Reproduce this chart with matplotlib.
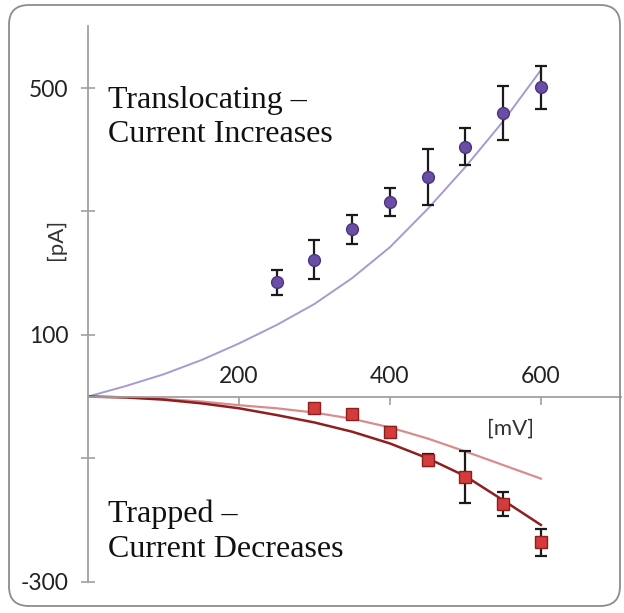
import matplotlib
matplotlib.use("Agg")
import matplotlib.pyplot as plt
from matplotlib.patches import FancyBboxPatch

# measured points (mV, pA)
v_trans = [250, 300, 350, 400, 450, 500, 550, 600]
i_trans = [185, 222, 271, 315, 356, 405, 460, 501]
err_trans = [20, 31, 24, 23, 45, 30, 44, 35]

v_trap = [300, 350, 400, 450, 500, 550, 600]
i_trap = [-19, -28, -57, -103, -131, -174, -236]
err_trap = [5, 5, 7, 10, 42, 19, 22]

# model curves
v_fit = [0, 50, 100, 150, 200, 250, 300, 350, 400, 450, 500, 550, 600]
fit_trans = [0, 17, 36, 59, 86, 116, 150, 192, 242, 304, 372, 446, 529]
fit_trap_light = [0, -1, -4, -8, -14, -19, -26, -36, -50, -68, -89, -111, -133]
fit_trap_dark = [0, -1.5, -5, -11, -19, -30, -42, -57, -76, -100, -129, -168, -208]

xticks = [200, 400, 600]
yticks = [-300, -100, 100, 300, 500]
ylabels = ["-300", "", "100", "", "500"]

plt.rcParams['font.family'] = ['Lato', 'DejaVu Sans']

fig = plt.figure(figsize=(6.24, 6.13), dpi=100)
ax = fig.add_axes([0.141, 0.0511, 0.854, 0.906])

# rounded frame round the whole chart
frame = FancyBboxPatch((9 / 624, 7 / 613), 611 / 624, 601 / 613,
                       boxstyle="round,pad=0,rounding_size=0.032",
                       transform=fig.transFigure, fill=False,
                       edgecolor="#8c8c8c", linewidth=1.3, zorder=0)
fig.patches.append(frame)

ax.plot(v_fit, fit_trans, color="#a69ad0", lw=1.4, zorder=2)
ax.plot(v_fit, fit_trap_light, color="#d98c8c", lw=1.6, zorder=2)
ax.plot(v_fit, fit_trap_dark, color="#8e1f1f", lw=1.8, zorder=2)

ax.errorbar(v_trans, i_trans, yerr=err_trans, fmt="o", color="#6a4ea6",
            mec="#4a3480", ms=8.5, ecolor="#1a1a1a", elinewidth=1.6,
            capsize=4.5, capthick=1.6, zorder=3)
ax.errorbar(v_trap, i_trap, yerr=err_trap, fmt="s", color="#d43b3b",
            mec="#8e1f1f", ms=8.5, ecolor="#1a1a1a", elinewidth=1.6,
            capsize=4.5, capthick=1.6, zorder=3)

ax.set_xlim(0, 706)
ax.set_ylim(-300, 600)

for s in ["top", "right"]:
    ax.spines[s].set_visible(False)
ax.spines["bottom"].set_position(("data", 0))
for s in ["left", "bottom"]:
    ax.spines[s].set_color("#a0a0a0")
    ax.spines[s].set_linewidth(1.3)

ax.set_yticks(yticks, labels=ylabels)
ax.set_xticks(xticks, labels=[])
ax.tick_params(axis="y", direction="inout", length=10, width=1.2,
               color="#a0a0a0", labelsize=16.5, labelcolor="#222222", pad=9)
ax.tick_params(axis="x", direction="out", length=6, width=1.2,
               color="#a0a0a0")
for v in xticks:
    ax.annotate(str(v), (v, 0), xytext=(0, 7), textcoords="offset points",
                ha="center", va="bottom", fontsize=16.5, color="#222222")

ax.text(-0.06, 0.617, "[pA]", transform=ax.transAxes, rotation=90,
        ha="center", va="center", fontsize=16, color="#333333")
ax.text(0.792, 0.275, "[mV]", transform=ax.transAxes,
        ha="center", va="center", fontsize=16, color="#333333")

serif = ["Liberation Serif", "DejaVu Serif"]
ax.text(0.037, 0.893, "Translocating \u2013\nCurrent Increases",
        transform=ax.transAxes, ha="left", va="top", fontsize=23,
        family=serif, linespacing=1.26, color="#111111")
ax.text(0.037, 0.148, "Trapped \u2013\nCurrent Decreases",
        transform=ax.transAxes, ha="left", va="top", fontsize=23,
        family=serif, linespacing=1.26, color="#111111")

fig.savefig("out.png", dpi=100)
